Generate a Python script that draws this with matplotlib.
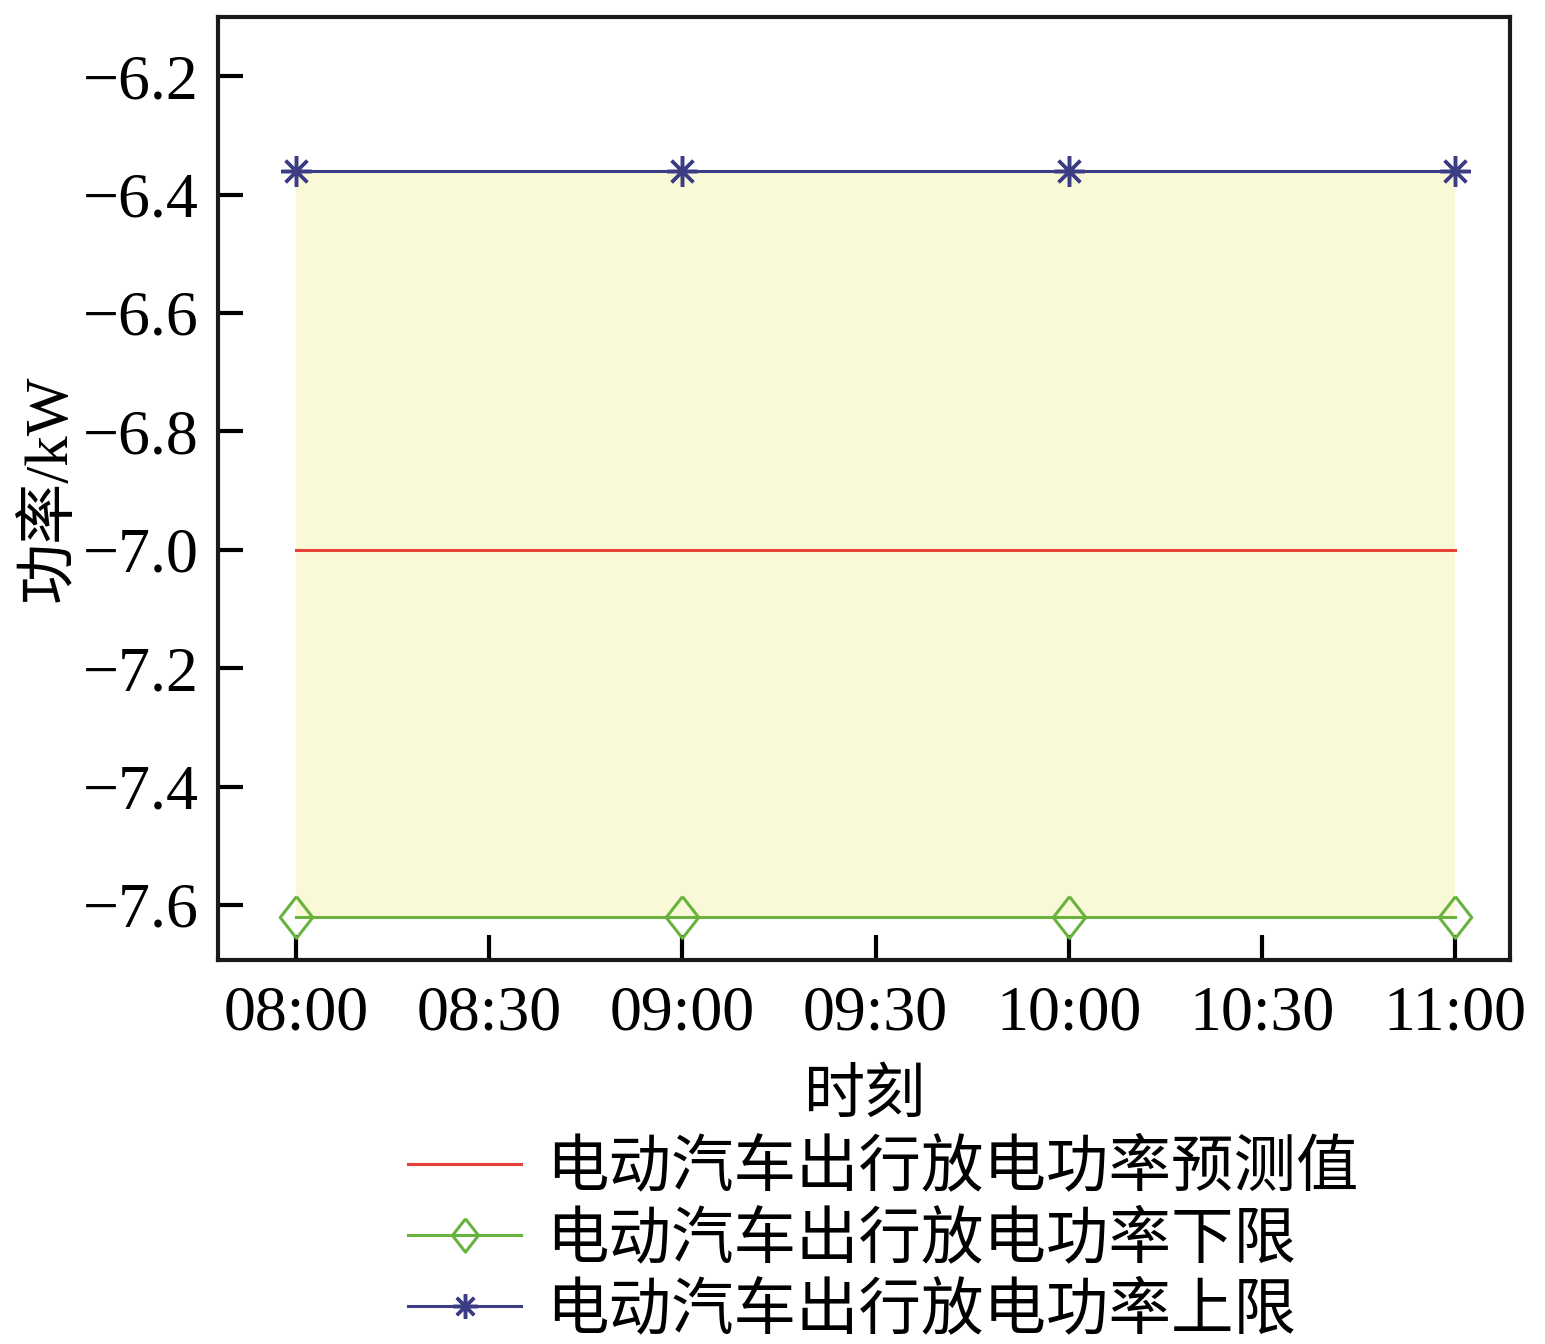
import matplotlib
matplotlib.use("Agg")
import matplotlib.pyplot as plt

plt.rcParams['font.family'] = ['Liberation Serif', 'Noto Sans CJK SC']
plt.rcParams['axes.unicode_minus'] = True

# data
hours = [8, 9, 10, 11]
predicted = [-7.0, -7.0, -7.0, -7.0]
lower = [-7.62, -7.62, -7.62, -7.62]
upper = [-6.36, -6.36, -6.36, -6.36]
xtick_pos = [8, 8.5, 9, 9.5, 10, 10.5, 11]
xtick_labels = ["08:00", "08:30", "09:00", "09:30", "10:00", "10:30", "11:00"]
ytick_pos = [-6.2, -6.4, -6.6, -6.8, -7.0, -7.2, -7.4, -7.6]
labels = ["电动汽车出行放电功率预测值", "电动汽车出行放电功率下限", "电动汽车出行放电功率上限"]

diamond = [(0, 1), (0.78, 0), (0, -1), (-0.78, 0), (0, 1)]

fig = plt.figure(figsize=(15.45, 13.44), dpi=100)
ax = fig.add_axes([0.1411, 0.2857, 0.8362, 0.7017])

ax.fill_between(hours, lower, upper, color="#f9f9d8", lw=0, zorder=1)
ax.plot(hours, predicted, color="#e8413a", lw=2.2, label=labels[0], zorder=3)
ax.plot(hours, lower, color="#6ab23e", lw=2.2, marker=diamond, markersize=30,
        markerfacecolor="none", markeredgewidth=2.2, label=labels[1], zorder=3)
ax.plot(hours, upper, color="#3d3d85", lw=2.2, marker=(8, 2, 0), markersize=22,
        markeredgewidth=2.5, label=labels[2], zorder=3)

ax.set_xlim(7.798, 11.142)
ax.set_ylim(-7.693, -6.1)
ax.set_xticks(xtick_pos)
ax.set_xticklabels(xtick_labels)
ax.set_yticks(ytick_pos)
ax.set_yticklabels(["\u2212%.1f" % abs(v) for v in ytick_pos])

ax.tick_params(direction="in", length=18, width=3, labelsize=46, top=False, right=False)
ax.tick_params(axis="x", pad=18)
ax.tick_params(axis="y", pad=14)
for s in ax.spines.values():
    s.set_linewidth(3)
    s.set_color("#1a1a1a")

ax.set_xlabel("时刻", fontsize=44, labelpad=20)
ax.set_ylabel("功率/kW", fontsize=44, labelpad=3)

leg = ax.legend(loc="upper center", bbox_to_anchor=(0.515, -0.165), frameon=False,
                fontsize=45, handlelength=1.8, handletextpad=0.4, labelspacing=0.2,
                borderaxespad=0)
for h in leg.legend_handles:
    h.set_markersize(h.get_markersize() * 0.8)

fig.savefig("out.png", dpi=100)
